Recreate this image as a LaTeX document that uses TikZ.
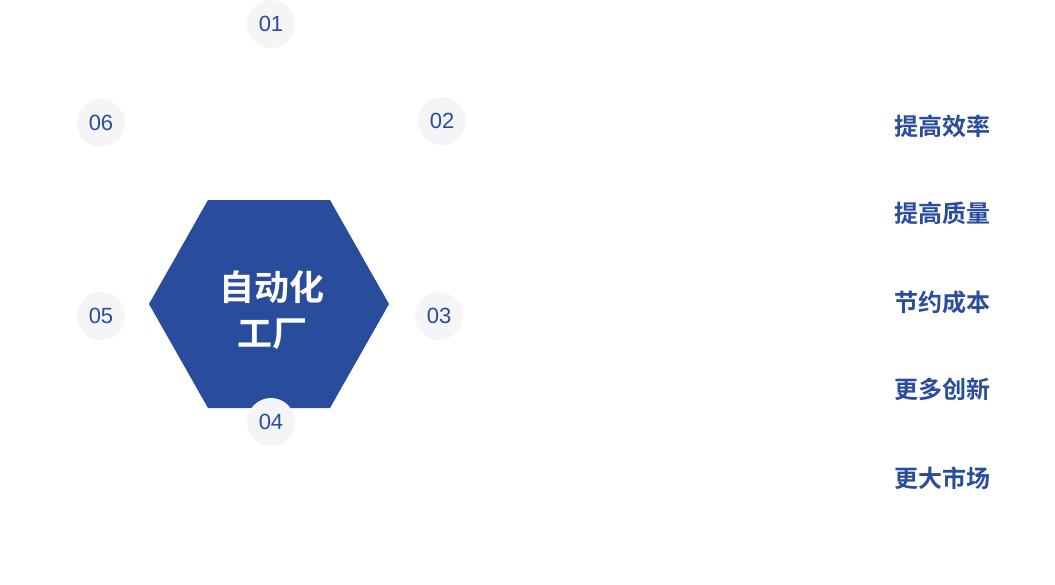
\documentclass[tikz,border=0pt]{standalone}
\usepackage{fontspec}
\setmainfont{Liberation Sans}
\newfontfamily\cjkb{Noto Sans CJK SC Bold}
\definecolor{mainblue}{HTML}{2A4C9C}
\definecolor{circfill}{HTML}{F5F5F7}
\begin{document}
\begin{tikzpicture}[x=1pt,y=-1pt,
  numc/.style={circle,fill=circfill,minimum size=48pt,inner sep=0pt,text=mainblue,font=\fontsize{22}{22}\selectfont},
  lab/.style={text=mainblue,font=\cjkb\fontsize{24}{24}\selectfont,inner sep=0pt}]
\useasboundingbox (0,0) rectangle (1055,584);
\fill[mainblue] (208,200) -- (330,200) -- (389,304) -- (330,408) -- (208,408) -- (149,304) -- cycle;
\node[text=white,font=\cjkb\fontsize{35}{46}\selectfont,align=center] (hex) at (272,310) {自动化\\工厂};
\node[numc] (n1) at (271,24) {01};
\node[numc] (n2) at (442,121) {02};
\node[numc] (n3) at (439,316) {03};
\node[numc] (n4) at (271,422) {04};
\node[numc] (n5) at (101,316) {05};
\node[numc] (n6) at (101,123) {06};
\node[lab] (l1) at (942,126) {提高效率};
\node[lab] (l2) at (942,213) {提高质量};
\node[lab] (l3) at (942,302) {节约成本};
\node[lab] (l4) at (942,389) {更多创新};
\node[lab] (l5) at (942,478) {更大市场};
\end{tikzpicture}
\end{document}
